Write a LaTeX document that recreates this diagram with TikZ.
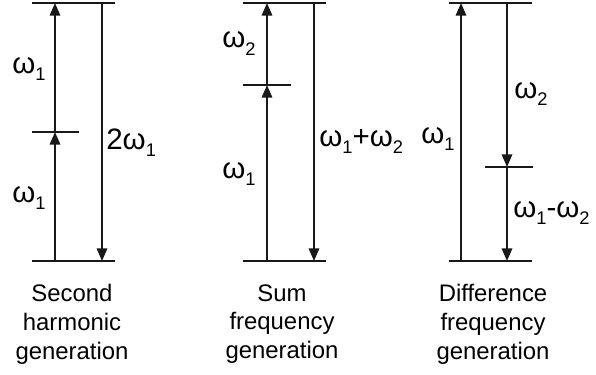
\documentclass[tikz,border=0pt]{standalone}
\usepackage{fontspec}
\setmainfont{Liberation Sans}
\usetikzlibrary{arrows.meta,positioning}
\newcommand{\wsub}[1]{ω\raisebox{-0.45ex}{\fontsize{13}{13}\selectfont #1}}

\begin{document}
\begin{tikzpicture}[x=0.025cm,y=-0.025cm,
  level/.style={ink, line width=1.1pt},
  photon/.style={ink, line width=1.1pt, -{Triangle[width=7.5pt,length=9pt]}},
  wlabel/.style={font=\fontsize{21}{23}\selectfont, inner sep=0pt, anchor=base west},
  caption/.style={font=\fontsize{17}{20.5}\selectfont, align=center, inner sep=0pt}]
% Three level schemes side by side: SHG, SFG, DFG. Pixel-like units,
% y runs down so the numbers.
\definecolor{ink}{RGB}{25, 25, 25}
\useasboundingbox (0,0) rectangle (596,374);
% ground and top levels of each scheme
\foreach \x in {32, 243, 449} {
  \draw[level] (\x,3) -- ++(83,0);
  \draw[level] (\x,261) -- ++(83,0);
}
% virtual levels
\draw[level] (32,132) -- (79,132);
\draw[level] (243,85) -- (291,85);
\draw[level] (485,167) -- (533,167);
% second harmonic generation
\coordinate (shg-g) at (55,261);
\coordinate (shg-v) at (55,132);
\coordinate (shg-e) at (55,3);
\coordinate (shg-t) at (102,3);
\coordinate (shg-b) at (102,261);
\draw[photon] (shg-g) -- (shg-v);
\draw[photon] (shg-v) -- (shg-e);
\draw[photon] (shg-t) -- (shg-b);
\node[wlabel] (shg-w1a) at (12,73) {\wsub1};
\node[wlabel] (shg-w1b) at (12,202) {\wsub1};
\node[wlabel] (shg-w2) at (106,149) {2\wsub1};
% sum frequency generation
\coordinate (sfg-g) at (267,261);
\coordinate (sfg-v) at (267,85);
\coordinate (sfg-e) at (267,3);
\coordinate (sfg-t) at (314,3);
\coordinate (sfg-b) at (314,261);
\draw[photon] (sfg-g) -- (sfg-v);
\draw[photon] (sfg-v) -- (sfg-e);
\draw[photon] (sfg-t) -- (sfg-b);
\node[wlabel] (sfg-w2) at (222,48) {\wsub2};
\node[wlabel] (sfg-w1) at (222,178) {\wsub1};
\node[wlabel] (sfg-sum) at (319,146) {\wsub1+\wsub2};
% difference frequency generation
\coordinate (dfg-g) at (461,261);
\coordinate (dfg-e) at (461,3);
\coordinate (dfg-t) at (507,3);
\coordinate (dfg-v) at (507,167);
\coordinate (dfg-b) at (507,261);
\draw[photon] (dfg-g) -- (dfg-e);
\draw[photon] (dfg-t) -- (dfg-v);
\draw[photon] (dfg-v) -- (dfg-b);
\node[wlabel] (dfg-w1) at (421,143) {\wsub1};
\node[wlabel] (dfg-w2) at (514,98) {\wsub2};
\node[wlabel] (dfg-diff) at (513,217) {\wsub1-\wsub2};
% captions
\node[caption] (shg-cap) at (72,324) {Second\\harmonic\\generation};
\node[caption] (sfg-cap) at (282,324) {Sum\\frequency\\generation};
\node[caption] (dfg-cap) at (493,324) {Difference\\frequency\\generation};
\end{tikzpicture}
\end{document}
